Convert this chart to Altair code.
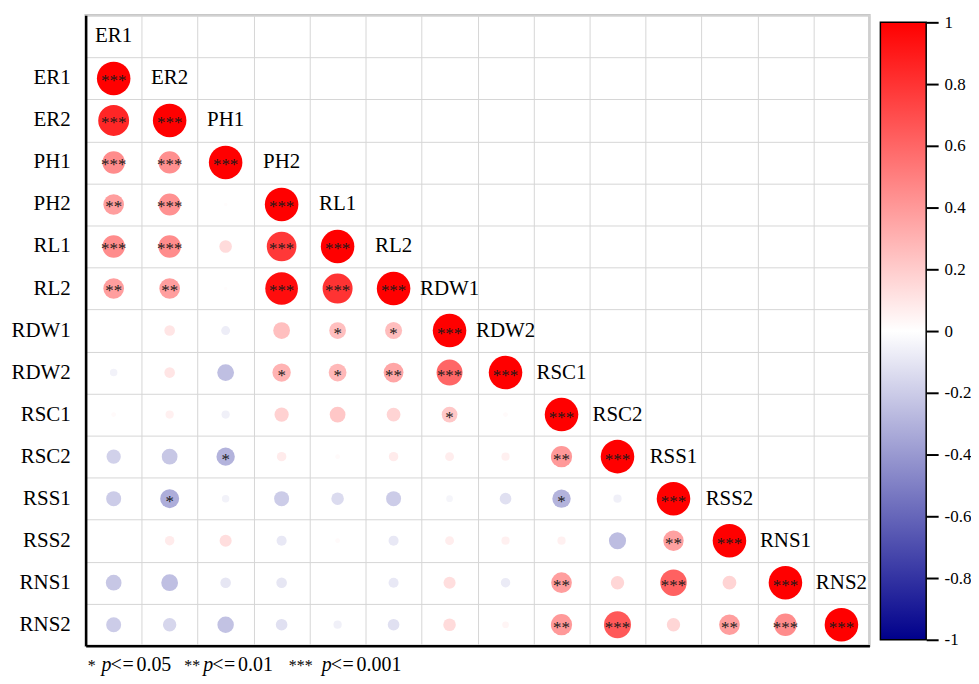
import altair as alt
import pandas as pd

variables = ["ER1", "ER2", "PH1", "PH2", "RL1", "RL2", "RDW1", "RDW2",
             "RSC1", "RSC2", "RSS1", "RSS2", "RNS1", "RNS2"]

corr_rows = [
    [1],
    [0.85, 1],
    [0.45, 0.44, 1],
    [0.38, 0.43, 0.01, 1],
    [0.45, 0.45, 0.14, 0.78, 1],
    [0.38, 0.38, 0.01, 0.95, 0.80, 1],
    [0.00, 0.10, -0.07, 0.25, 0.25, 0.26, 1],
    [-0.05, 0.10, -0.25, 0.30, 0.28, 0.35, 0.60, 1],
    [0.02, 0.06, -0.06, 0.18, 0.22, 0.17, 0.22, 0.02, 1],
    [-0.18, -0.22, -0.30, 0.08, 0.02, 0.08, 0.07, 0.06, 0.40, 1],
    [-0.20, -0.32, -0.05, -0.20, -0.14, -0.20, -0.04, -0.12, -0.30, -0.06, 1],
    [0.00, 0.08, 0.13, -0.09, 0.02, -0.09, 0.07, 0.06, 0.06, -0.26, 0.37, 1],
    [-0.22, -0.25, -0.10, -0.10, 0.00, -0.09, 0.13, -0.08, 0.38, 0.16, 0.62, 0.17, 1],
    [-0.20, -0.16, -0.24, -0.12, -0.06, -0.12, 0.14, 0.04, 0.40, 0.65, 0.16, 0.38, 0.45, 1],
]

sig_rows = [
    ["***"],
    ["***", "***"],
    ["***", "***", "***"],
    ["**", "***", "", "***"],
    ["***", "***", "", "***", "***"],
    ["**", "**", "", "***", "***", "***"],
    ["", "", "", "", "*", "*", "***"],
    ["", "", "", "*", "*", "**", "***", "***"],
    ["", "", "", "", "", "", "*", "", "***"],
    ["", "", "*", "", "", "", "", "", "**", "***"],
    ["", "*", "", "", "", "", "", "", "*", "", "***"],
    ["", "", "", "", "", "", "", "", "", "", "**", "***"],
    ["", "", "", "", "", "", "", "", "**", "", "***", "", "***"],
    ["", "", "", "", "", "", "", "", "**", "***", "", "**", "***", "***"],
]

legend_ticks = [1, 0.8, 0.6, 0.4, 0.2, 0, -0.2, -0.4, -0.6, -0.8, -1]

footnote = [("*", "normal"), ("p", "italic"), ("<", "normal"), ("=", "normal"), ("0.05", "normal"),
            ("**", "normal"), ("p", "italic"), ("<", "normal"), ("=", "normal"), ("0.01", "normal"),
            ("***", "normal"), ("p", "italic"), ("<", "normal"), ("=", "normal"), ("0.001", "normal")]
footnote_x = [2, 16, 25, 37, 51,
              99, 118, 127, 139, 153,
              204, 237, 246, 258, 272]

FONT = "Liberation Serif"
N = len(variables)
W, H = 787, 633
MAX_AREA = 1134

cells = []
for i, (vals, sigs) in enumerate(zip(corr_rows, sig_rows)):
    for j, (v, s) in enumerate(zip(vals, sigs)):
        cells.append({"row": i + 1.5, "col": j + 0.5, "r": v, "absr": abs(v), "sig": s})
cells = pd.DataFrame(cells)

collabels = pd.DataFrame({"name": variables,
                          "row": [k + 0.5 for k in range(N)],
                          "col": [k + 0.5 for k in range(N)]})
rowlabels = pd.DataFrame({"name": variables,
                          "row": [k + 1.5 for k in range(N)]})

xscale = alt.Scale(domain=[0, N], nice=False, zero=False)
yscale = alt.Scale(domain=[0, N + 1], nice=False, zero=False, reverse=True)
xaxis = alt.Axis(values=list(range(N + 1)), grid=True, gridColor="#d6d6d6", gridWidth=1,
                 labels=False, ticks=False, domain=True, domainColor="black",
                 domainWidth=2.5, title=None)
yaxis = alt.Axis(values=list(range(N + 2)), grid=True, gridColor="#d6d6d6", gridWidth=1,
                 labels=False, ticks=False, domain=True, domainColor="black",
                 domainWidth=2.5, title=None)

color_scale = alt.Scale(domain=[-1, 0, 1], range=["#00008B", "#FFFFFF", "#FF0000"],
                        interpolate="rgb")

base = alt.Chart(cells)

circles = base.mark_circle(opacity=1).encode(
    x=alt.X("col:Q", scale=xscale, axis=xaxis),
    y=alt.Y("row:Q", scale=yscale, axis=yaxis),
    size=alt.Size("absr:Q", scale=alt.Scale(domain=[0, 1], range=[0, MAX_AREA]), legend=None),
    color=alt.Color("r:Q", scale=color_scale, legend=None),
)

stars = base.mark_text(font=FONT, fontSize=17, color="#1a1a1a", baseline="middle", dy=3).encode(
    x=alt.X("col:Q", scale=xscale),
    y=alt.Y("row:Q", scale=yscale),
    text="sig:N",
)

col_text = alt.Chart(collabels).mark_text(font=FONT, fontSize=21, color="black",
                                          baseline="middle", align="center").encode(
    x=alt.X("col:Q", scale=xscale),
    y=alt.Y("row:Q", scale=yscale),
    text="name:N",
)

row_text = alt.Chart(rowlabels).mark_text(font=FONT, fontSize=21, color="black",
                                          baseline="middle", align="right").encode(
    x=alt.value(-15),
    y=alt.Y("row:Q", scale=yscale),
    text="name:N",
)

foot_layers = []
for (txt, style), xpos in zip(footnote, footnote_x):
    size = 16 if txt.startswith("*") else 20
    foot_layers.append(
        alt.Chart(cells).mark_text(text=txt, font=FONT, fontSize=size, fontStyle=style,
                                   color="black", align="left", baseline="alphabetic").encode(
            x=alt.value(xpos), y=alt.value(H + 25)
        ).transform_filter("datum.row == 1.5")
    )

main = alt.layer(circles, stars, col_text, row_text, *foot_layers).properties(
    width=W, height=H, view=alt.ViewBackground(stroke="#c8c8c8", strokeWidth=2.5)
)

# colour bar
top_off, bot_off = 7, 627
per_unit = (bot_off - top_off) / 2
dom_hi = 1 + top_off / per_unit
dom_lo = -1 - (H - bot_off) / per_unit
bar_df = pd.DataFrame({"lo": [-1], "hi": [1]})
gradient = alt.LinearGradient(
    gradient="linear", x1=0, y1=1, x2=0, y2=0,
    stops=[alt.GradientStop(offset=0, color="#00008B"),
           alt.GradientStop(offset=0.5, color="#FFFFFF"),
           alt.GradientStop(offset=1, color="#FF0000")],
)
cbar = alt.Chart(bar_df).mark_rect(fill=gradient, stroke="black", strokeWidth=1.5).encode(
    x=alt.value(0), x2=alt.value(46),
    y=alt.Y("lo:Q", scale=alt.Scale(domain=[dom_lo, dom_hi], nice=False, zero=False),
            axis=alt.Axis(orient="right", values=legend_ticks, format="~g",
                          labelExpr="replace(datum.label, '\u2212', '-')", grid=False,
                          domain=False, ticks=True, tickSize=12, tickWidth=2,
                          tickColor="black", labelFont=FONT, labelFontSize=17,
                          labelColor="black", labelPadding=6, title=None)),
    y2="hi:Q",
).properties(width=46, height=H, view=alt.ViewBackground(strokeWidth=0))

chart = alt.hconcat(main, cbar, spacing=11, bounds="flush").properties(
    padding={"left": 2, "top": 3, "right": 0, "bottom": 0}
).configure_view(strokeWidth=0)

chart.save("out.html", embed_options={"renderer": "svg", "actions": False})
